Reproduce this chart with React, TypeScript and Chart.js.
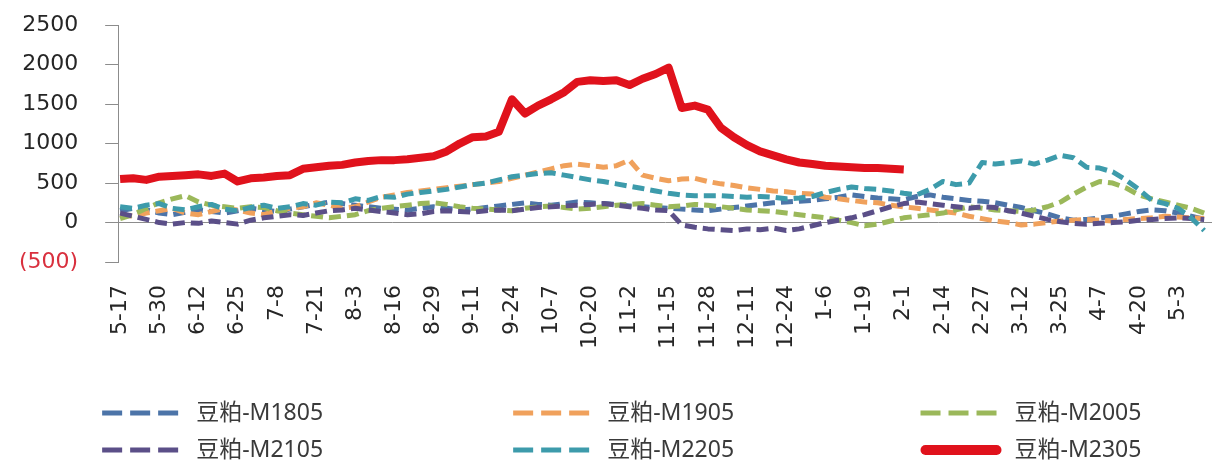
import { useEffect, useRef } from 'react';
import { Chart, registerables } from 'chart.js';

Chart.register(...registerables);

// Date labels shown on the x axis (one every 13 days)
const TICK_LABELS = [
  '5-17', '5-30', '6-12', '6-25', '7-8', '7-21', '8-3', '8-16', '8-29', '9-11',
  '9-24', '10-7', '10-20', '11-2', '11-15', '11-28', '12-11', '12-24', '1-6', '1-19',
  '2-1', '2-14', '2-27', '3-12', '3-25', '4-7', '4-20', '5-3',
];

// Each labelled interval holds three samples
const SAMPLES_PER_TICK = 3;

const SERIES_NAMES = ['豆粕-M1805', '豆粕-M1905', '豆粕-M2005', '豆粕-M2105', '豆粕-M2205', '豆粕-M2305'];
const SERIES_COLORS = ['#4c74a8', '#f0a15c', '#9bb85a', '#5b4f88', '#3d9bab', '#e0121c'];

// Basis values per sample
const M1805 = [
  150, 180, 160, 120, 100, 130, 160, 140, 120, 150, 180, 160, 140, 170, 200, 230,
  260, 240, 220, 200, 180, 170, 160, 180, 200,
  180, 160, 170, 190, 210, 230, 250, 230, 220, 240, 260,
  250, 240, 230, 210, 200, 190, 180, 170, 160, 150,
  170, 190, 210, 230, 250, 260, 270, 280,
  300, 320, 350, 330, 310, 300, 290,
  330, 350, 320, 300, 280, 270, 250, 220,
  190, 150, 110, 60, 30, 40,
  60, 80, 110, 140, 160, 150, 120, 80, 40,
];
const M1905 = [
  100, 80, 120, 150, 180, 120, 100, 140, 180, 160, 120, 100, 150, 180, 200, 250,
  220, 180, 200, 260, 320, 350, 380, 400, 420,
  440, 460, 480, 500, 520, 560,
  600, 640, 680, 720, 740, 720,
  700, 720, 790,
  600, 560, 530, 550, 560, 520,
  490, 470, 440, 420, 400, 390, 370, 360,
  320, 300, 280, 260, 250, 220, 200,
  180, 160, 140, 120, 80, 50, 20, 0,
  -30, -20, 0, 20,
  30, 40, 30, 20, 40, 50, 60, 80, 70, 60, 50,
];
const M2005 = [
  50, 100, 180, 250, 300, 340, 260, 220, 200, 180, 200, 190, 150, 120, 100, 80,
  60, 80, 100, 150, 180, 200, 220, 240, 250,
  230, 200, 180, 170, 160, 150, 180, 200, 210, 190, 170,
  180, 200, 220, 230, 240, 220, 200, 210, 230, 220,
  200, 180, 160, 150, 140, 120, 100, 80,
  60, 30, 0, -40, -20, 20, 60,
  80, 100, 120, 160, 200, 180, 160, 150,
  140, 160, 200, 260, 360, 450,
  520, 500, 440, 350, 300, 260, 220, 180, 120,
];
const M2105 = [
  120, 80, 40, 0, -20, 0, -10, 20, 0, -20, 30, 60, 80, 100, 90, 120,
  150, 160, 180, 160, 140, 120, 100, 110, 140,
  150, 140, 130, 150, 160, 150, 170, 190, 200, 210, 220,
  230, 240, 220, 200, 180, 160, 150,
  -30, -60, -80, -90, -100, -80, -90, -70, -100, -80, -40,
  0, 30, 60, 100, 150, 200, 240,
  260, 240, 220, 200, 180, 200, 190, 150,
  120, 80, 40, 10, -10, -20,
  -10, 0, 10, 30, 40, 50, 60, 50, 40,
];
const M2205 = [
  200, 180, 220, 240, 180, 160, 200, 230, 170, 150, 190, 220, 180, 200, 240, 220,
  260, 250, 300, 280, 330, 320, 360, 380, 400,
  420, 450, 480, 500, 540, 580,
  600, 620, 630, 600, 570,
  540, 520, 490, 460, 430, 400, 370, 350, 340, 340,
  340, 330, 320, 330, 320, 300, 310, 330,
  380, 420, 450, 430, 420, 400,
  370, 350, 420,
  520, 480, 500,
  760, 740, 760, 780, 740, 790,
  850, 820, 700, 690,
  640, 540, 420, 280, 240, 180, 60, -100,
];
const M2305 = [
  550, 560, 540, 580, 590, 600, 610, 590, 620, 520, 560, 570, 590, 600, 680, 700,
  720, 730, 760, 780, 790, 790, 800, 820, 840,
  900, 1000, 1080, 1090, 1150, 1560,
  1380, 1480, 1560, 1650, 1780, 1800,
  1790, 1800, 1740, 1820, 1880, 1960,
  1450, 1480, 1430, 1200, 1080, 980, 900, 850, 800, 760,
  740, 720, 710, 700, 690, 690, 680, 670,
];

const SERIES_VALUES = [M1805, M1905, M2005, M2105, M2205, M2305];

const Y_MIN = -500;
const Y_MAX = 2500;
const Y_STEP = 500;

const TICK_FONT = { family: '"DejaVu Sans", sans-serif', size: 22 };
const AXIS_GRAY = '#8c8c8c';

// Let the layout padding alone decide where the plot area sits
const noEdgePadding = (scale: any) => {
  scale.paddingTop = 0;
  scale.paddingBottom = 0;
  scale.paddingLeft = 0;
  scale.paddingRight = 0;
};

// Three-column legend drawn beneath the axis labels
const gridLegend = {
  id: 'gridLegend',
  afterDraw(chart: any) {
    const { ctx, width, height } = chart;
    const colX = [0.084, 0.422, 0.757].map((f) => f * width);
    const rowY = [0.8825, 0.9615].map((f) => f * height);
    chart.data.datasets.forEach((ds: any, i: number) => {
      const x = colX[i % 3];
      const y = rowY[Math.floor(i / 3)];
      ctx.save();
      ctx.strokeStyle = ds.borderColor;
      ctx.beginPath();
      if (ds.borderDash && ds.borderDash.length) {
        ctx.lineWidth = 5;
        ctx.lineCap = 'butt';
        ctx.setLineDash([20, 8]);
        ctx.moveTo(x, y);
        ctx.lineTo(x + 76, y);
      } else {
        ctx.lineWidth = 10;
        ctx.lineCap = 'round';
        ctx.setLineDash([]);
        ctx.moveTo(x + 5, y);
        ctx.lineTo(x + 76, y);
      }
      ctx.stroke();
      ctx.setLineDash([]);
      ctx.fillStyle = '#3a3a3a';
      ctx.font = '23px "Noto Sans", "Noto Sans CJK SC", sans-serif';
      ctx.textAlign = 'left';
      ctx.textBaseline = 'middle';
      ctx.fillText(ds.label, x + 94, y);
      ctx.restore();
    });
  },
};

export default function App() {
  const canvasRef = useRef<HTMLCanvasElement | null>(null);

  useEffect(() => {
    if (!canvasRef.current) return;
    const datasets = SERIES_VALUES.map((values, s) => {
      const solid = s === SERIES_VALUES.length - 1;
      return {
        label: SERIES_NAMES[s],
        data: values.map((v, i) => ({ x: i, y: v })),
        borderColor: SERIES_COLORS[s],
        backgroundColor: SERIES_COLORS[s],
        borderWidth: solid ? 8 : 5,
        borderDash: solid ? [] : [12, 6],
        borderJoinStyle: 'round' as const,
        pointRadius: 0,
        tension: 0,
        fill: false,
        order: SERIES_VALUES.length - s,
      };
    });

    const chart = new Chart(canvasRef.current, {
      type: 'line',
      data: { datasets },
      plugins: [gridLegend],
      options: {
        animation: false,
        responsive: true,
        maintainAspectRatio: false,
        layout: { padding: { top: 25, left: -8, right: 4, bottom: 96 } },
        plugins: {
          legend: { display: false },
          tooltip: { enabled: false },
        },
        scales: {
          x: {
            type: 'linear',
            min: -0.15,
            max: 83.6,
            grid: { display: false, drawTicks: false },
            border: { display: false },
            afterBuildTicks: (scale: any) => {
              scale.ticks = TICK_LABELS.map((_, k) => ({ value: k * SAMPLES_PER_TICK }));
            },
            afterFit: noEdgePadding,
            ticks: {
              autoSkip: false,
              minRotation: 90,
              maxRotation: 90,
              padding: 23,
              color: '#262626',
              font: TICK_FONT,
              callback: (value: any) => TICK_LABELS[Math.round(Number(value) / SAMPLES_PER_TICK)] ?? '',
            },
          },
          y: {
            type: 'linear',
            min: Y_MIN,
            max: Y_MAX,
            afterFit: noEdgePadding,
            border: { display: true, color: AXIS_GRAY, width: 1 },
            grid: {
              drawTicks: true,
              tickLength: 13,
              tickColor: AXIS_GRAY,
              color: (c: any) => (c.tick && c.tick.value === 0 ? AXIS_GRAY : 'transparent'),
              lineWidth: 1,
            },
            ticks: {
              stepSize: Y_STEP,
              padding: 27,
              font: TICK_FONT,
              color: (c: any) => (c.tick && c.tick.value < 0 ? '#d9303e' : '#262626'),
              callback: (value: any) => (Number(value) < 0 ? `(${Math.abs(Number(value))})` : `${value}`),
            },
          },
        },
      },
    });
    return () => chart.destroy();
  }, []);

  return (
    <div style={{ position: 'absolute', left: 0, top: 0, width: 1216, height: 468, background: '#fff' }}>
      <canvas ref={canvasRef} />
    </div>
  );
}
